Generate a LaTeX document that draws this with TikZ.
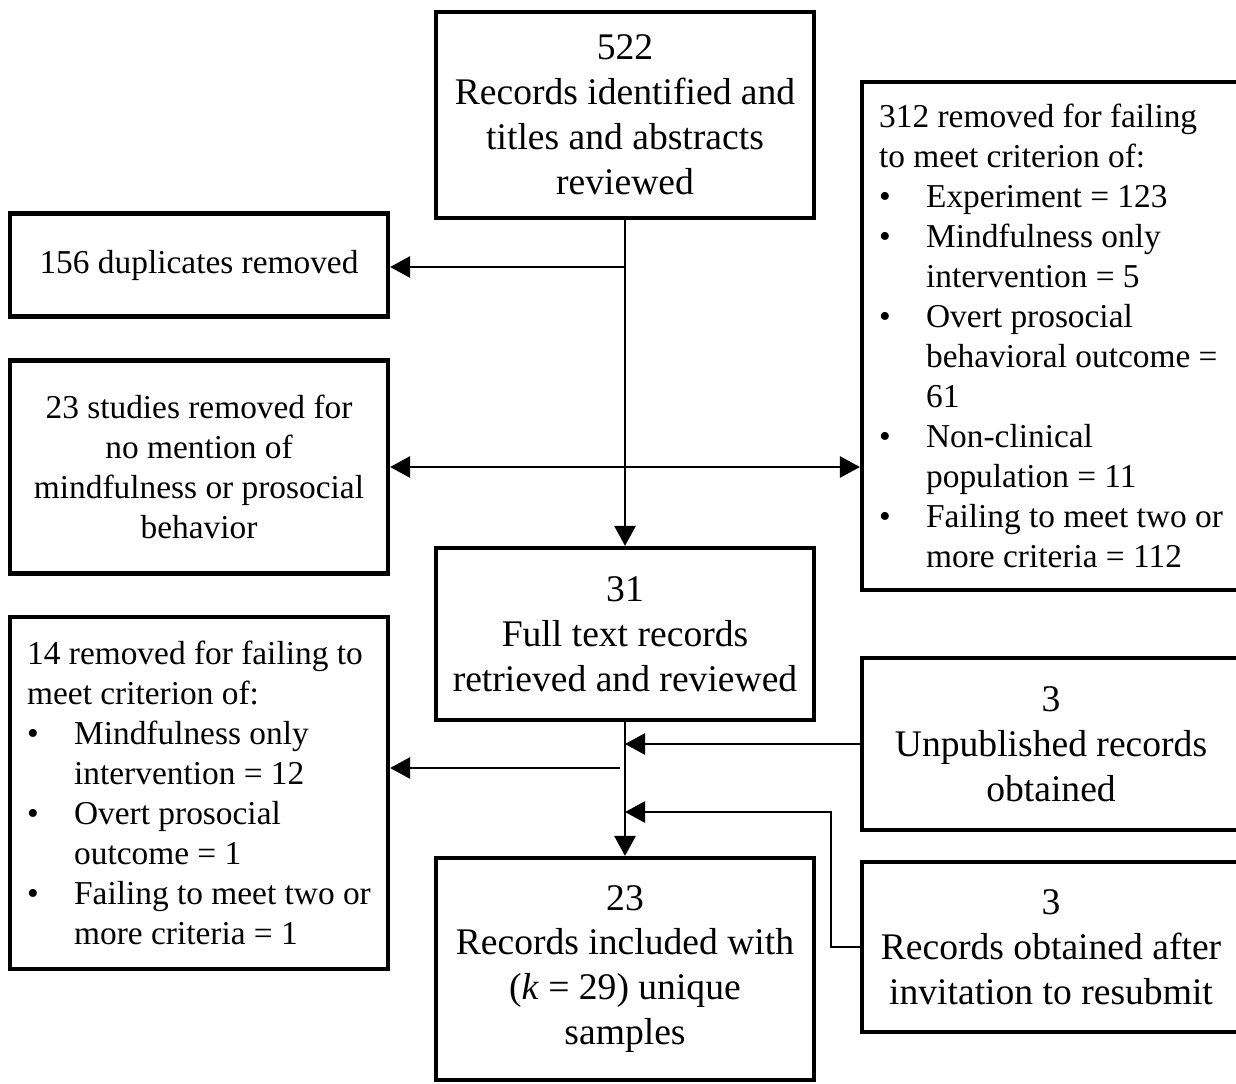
\documentclass[tikz,border=0pt]{standalone}
\usepackage{fontspec}
\setmainfont{Liberation Serif}
\usetikzlibrary{arrows.meta,positioning}

\newcommand{\bul}{\makebox[0.94cm][l]{\textbullet}}
\newcommand{\ind}{\hspace*{0.94cm}}

\begin{document}
\begin{tikzpicture}[x=0.02cm,y=-0.02cm,
  box/.style={draw,line width=2.4pt,minimum width=7.56cm,inner xsep=0.1cm},
  bigbox/.style={box,align=center,font=\fontsize{21.4}{25.6}\selectfont},
  smallbox/.style={box,align=center,font=\fontsize{19}{22.8}\selectfont},
  listbox/.style={box,align=left,font=\fontsize{19}{22.8}\selectfont},
  link/.style={line width=1.6pt,-{Triangle[length=0.4cm,width=0.42cm]}},
  >={Triangle[length=0.4cm,width=0.42cm]}]

\useasboundingbox (0,0) rectangle (1236,1083);

% middle column
\node[bigbox,minimum height=4.12cm] (rec) at (625,115)
  {522\\Records identified and\\titles and abstracts\\reviewed};
\node[bigbox,minimum height=3.44cm] (full) at (625,634)
  {31\\Full text records\\retrieved and reviewed};
\node[bigbox,minimum height=4.44cm] (incl) at (625,969)
  {23\\Records included with\\(\textit{k} = 29) unique\\samples};

% left column
\node[smallbox,minimum height=2.06cm] (dup) at (199,265) {156 duplicates removed};
\node[smallbox,minimum height=4.26cm] (nomention) at (199,467)
  {23 studies removed for\\no mention of\\mindfulness or prosocial\\behavior};
\node[listbox,minimum height=7.04cm] (fulltextout) at (199,793)
  {14 removed for failing to\\meet criterion of:\\
   \bul Mindfulness only\\\ind intervention = 12\\
   \bul Overt prosocial\\\ind outcome = 1\\
   \bul Failing to meet two or\\\ind more criteria = 1};

% right column
\node[listbox,minimum height=10.16cm] (screenout) at (1051,336)
  {312 removed for failing\\to meet criterion of:\\
   \bul Experiment = 123\\
   \bul Mindfulness only\\\ind intervention = 5\\
   \bul Overt prosocial\\\ind behavioral outcome =\\\ind 61\\
   \bul Non-clinical\\\ind population = 11\\
   \bul Failing to meet two or\\\ind more criteria = 112};
\node[bigbox,minimum height=3.44cm] (unpub) at (1051,744)
  {3\\Unpublished records\\obtained};
\node[bigbox,minimum height=3.4cm] (resub) at (1051,947)
  {3\\Records obtained after\\invitation to resubmit};

\coordinate (dupsplit) at (625,267);
\coordinate (lowsplit) at (620,768);
\coordinate (bend) at (831,812);

\draw[link] (rec.south) -- (full.north);
\draw[link] (dupsplit) -- (dupsplit -| dup.east);
\draw[line width=1.6pt,<->] (nomention.east) -- (nomention.east -| screenout.west);

\draw[link] (full.south) -- (incl.north);
\draw[link] (unpub.west) -- (unpub.west -| full.south);
\draw[link] (lowsplit) -- (lowsplit -| fulltextout.east);
\draw[link] (resub.west) -| (bend) -- (bend -| incl.north);

\end{tikzpicture}
\end{document}
